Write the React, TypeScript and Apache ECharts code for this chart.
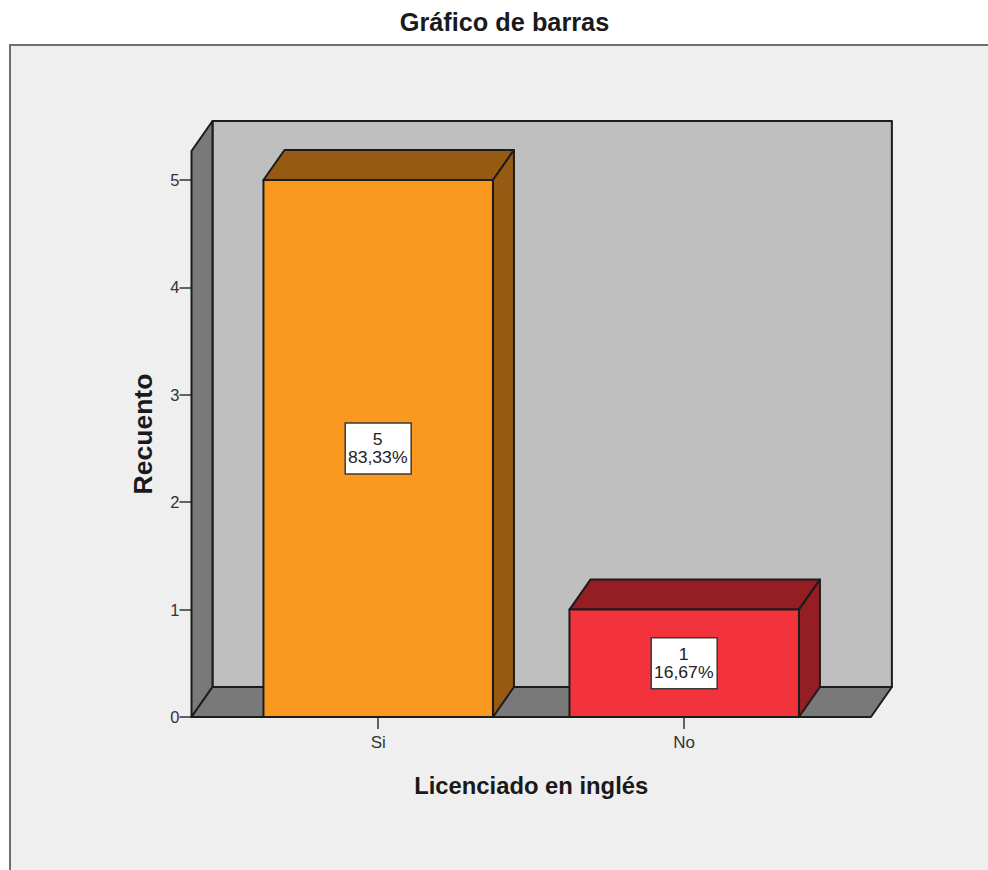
import React, { useEffect, useRef } from "react";
import * as echarts from "echarts";

const categories = ["Si", "No"];
const counts = [5, 1];
const percentLabels = ["83,33%", "16,67%"];
const yTicks = [0, 1, 2, 3, 4, 5];
const yMax = 5.27;
const title = "Gráfico de barras";
const xTitle = "Licenciado en inglés";
const yTitle = "Recuento";

const faceColors = ["#FA981F", "#F2333B"];
const shadeColors = ["#965A13", "#941E24"];

const FONT = '"Liberation Sans", Arial, sans-serif';
const DX = 21;
const DY = -30;
const INK = "#1c1c1c";
const GRID_LEFT = 225.2;
const GRID_WIDTH = 612;
const FLOOR_OVERHANG = 33.7;

export default function App() {
  const ref = useRef<HTMLDivElement>(null);
  useEffect(() => {
    document.body.style.margin = "0";
    document.body.style.background = "#fff";
    const chart = echarts.init(ref.current!, null, { renderer: "svg" });
    const faceStyle = (fill: string) => ({ fill, stroke: INK, lineWidth: 2, lineJoin: "round" });
    const poly = (points: number[][], fill: string) => ({
      type: "polygon",
      shape: { points },
      style: faceStyle(fill),
    });
    chart.setOption({
      animation: false,
      backgroundColor: "#ffffff",
      title: {
        text: title,
        left: 499.5,
        top: 4.4,
        textAlign: "center",
        textStyle: { fontFamily: FONT, fontSize: 25.3, fontWeight: "bold", color: "#1a1a1a" },
      },
      graphic: [
        {
          type: "rect",
          silent: true,
          z: -1,
          shape: { x: 10, y: 45, width: 1020, height: 900 },
          style: { fill: "#EFEFEF", stroke: "#6e6e6e", lineWidth: 2 },
        },
      ],
      grid: { left: GRID_LEFT, top: 151, width: GRID_WIDTH, height: 566, containLabel: false },
      xAxis: {
        type: "category",
        data: categories,
        name: xTitle,
        nameLocation: "middle",
        nameGap: 56,
        nameTextStyle: { fontFamily: FONT, fontSize: 23.8, fontWeight: "bold", color: "#1a1a1a" },
        axisLine: { show: false },
        axisTick: { show: true, alignWithLabel: true, length: 12, lineStyle: { color: "#333", width: 1.5 } },
        axisLabel: { fontFamily: FONT, fontSize: 17, color: "#333", margin: 16.5 },
        splitLine: { show: false },
      },
      yAxis: {
        type: "value",
        min: 0,
        max: yMax,
        interval: 1,
        offset: FLOOR_OVERHANG,
        name: yTitle,
        nameLocation: "middle",
        nameGap: 35.5,
        nameTextStyle: { fontFamily: FONT, fontSize: 26.5, fontWeight: "bold", color: "#1a1a1a" },
        axisLine: { show: false },
        axisTick: { show: true, length: 12, customValues: yTicks, lineStyle: { color: "#333", width: 1.5 } },
        axisLabel: { fontFamily: FONT, fontSize: 16.5, color: "#333", margin: 12, customValues: yTicks },
        splitLine: { show: false },
      },
      series: [
        {
          type: "custom",
          z: 1,
          silent: true,
          data: [[0, 0]],
          renderItem: (params: any, api: any) => {
            const cs = params.coordSys;
            const left = cs.x - FLOOR_OVERHANG;
            const right = cs.x + cs.width + FLOOR_OVERHANG;
            const bottom = api.coord([0, 0])[1];
            const top = api.coord([0, yMax])[1];
            const wall = "#BFBFBF";
            const dark = "#797979";
            return {
              type: "group",
              children: [
                poly(
                  [
                    [left + DX, top + DY],
                    [right + DX, top + DY],
                    [right + DX, bottom + DY],
                    [left + DX, bottom + DY],
                  ],
                  wall,
                ),
                poly(
                  [
                    [left, top],
                    [left + DX, top + DY],
                    [left + DX, bottom + DY],
                    [left, bottom],
                  ],
                  dark,
                ),
                poly(
                  [
                    [left, bottom],
                    [left + DX, bottom + DY],
                    [right + DX, bottom + DY],
                    [right, bottom],
                  ],
                  dark,
                ),
              ],
            };
          },
        },
        {
          type: "custom",
          z: 2,
          silent: true,
          data: categories.map((c, i) => [i, counts[i]]),
          renderItem: (params: any, api: any) => {
            const i = params.dataIndex;
            const idx = api.value(0);
            const val = api.value(1);
            const base = api.coord([idx, 0]);
            const tip = api.coord([idx, val]);
            const w = api.size([1, 0])[0] * 0.75;
            const x0 = base[0] - w / 2;
            const x1 = base[0] + w / 2;
            const y0 = base[1];
            const y1 = tip[1];
            const cy = (y0 + y1) / 2;
            const boxW = 66;
            const boxH = 51;
            const label = (text: string, y: number) => ({
              type: "text",
              z2: 5,
              x: base[0] - 0.5,
              y,
              scaleX: 1.1,
              style: {
                text,
                x: 0,
                y: 0,
                textAlign: "center",
                textVerticalAlign: "middle",
                font: `16px ${FONT}`,
                fill: "#222",
              },
            });
            return {
              type: "group",
              children: [
                poly([[x0, y1], [x0 + DX, y1 + DY], [x1 + DX, y1 + DY], [x1, y1]], shadeColors[i]),
                poly([[x1, y1], [x1 + DX, y1 + DY], [x1 + DX, y0 + DY], [x1, y0]], shadeColors[i]),
                {
                  type: "rect",
                  shape: { x: x0, y: y1, width: w, height: y0 - y1 },
                  style: faceStyle(faceColors[i]),
                },
                {
                  type: "rect",
                  z2: 4,
                  shape: { x: base[0] - boxW / 2, y: cy - boxH / 2, width: boxW, height: boxH },
                  style: { fill: "#ffffff", stroke: "#3a3a3a", lineWidth: 1.5 },
                },
                label(String(counts[i]), cy - 9),
                label(percentLabels[i], cy + 9.5),
              ],
            };
          },
        },
      ],
    });
    return () => chart.dispose();
  }, []);
  return <div ref={ref} style={{ width: 988, height: 870 }} />;
}
